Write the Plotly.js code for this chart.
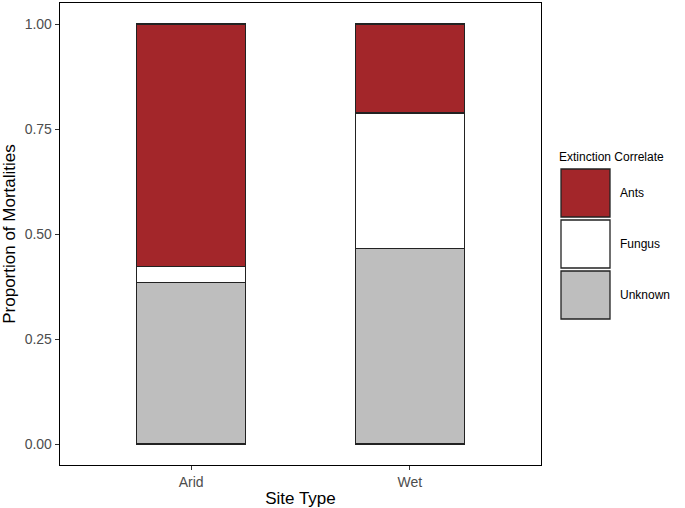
<!DOCTYPE html>
<html>
<head>
<meta charset="utf-8">
<script src="https://cdn.plot.ly/plotly-3.0.1.min.js"></script>
<style>
  html, body { margin: 0; padding: 0; background: #fff; }
  #chart { width: 685px; height: 508px; }
</style>
</head>
<body>
<div id="chart"></div>
<script>
// site types on the x axis
var sites = ['Arid', 'Wet'];

// proportion of mortalities per extinction correlate
var unknown = [0.384, 0.465];
var fungus = [0.039, 0.323];
var ants = [0.577, 0.212];

var yTicks = [0, 0.25, 0.5, 0.75, 1];
var yTickText = ['0.00', '0.25', '0.50', '0.75', '1.00'];

// legend order top to bottom
var legendNames = ['Ants', 'Fungus', 'Unknown'];
var legendColors = ['#a3262a', '#ffffff', '#bebebe'];

var W = 685, H = 508;
var mL = 60, mR = 144, mT = 3, mB = 43;
var plotW = W - mL - mR, plotH = H - mT - mB;

function px(x) { return (x - mL) / plotW; }
function py(y) { return (H - mB - y) / plotH; }

function barTrace(name, vals, color) {
  return {
    x: sites,
    y: vals,
    name: name,
    type: 'bar',
    width: 0.5,
    marker: { color: color, line: { color: '#222', width: 1.3 } },
    showlegend: false,
    hoverinfo: 'x+y+name'
  };
}

var data = [
  barTrace('Unknown', unknown, '#bebebe'),
  barTrace('Fungus', fungus, '#ffffff'),
  barTrace('Ants', ants, '#a3262a')
];

// hand made legend with big ggplot-style keys
var shapes = [];
var annotations = [];
for (var i = 0; i < legendNames.length; i++) {
  var keyTop = 169 + i * 51;
  shapes.push({
    type: 'rect', xref: 'paper', yref: 'paper',
    x0: px(561), x1: px(610), y0: py(keyTop + 48), y1: py(keyTop),
    fillcolor: legendColors[i],
    line: { color: '#222', width: 1.3 }
  });
  annotations.push({
    xref: 'paper', yref: 'paper', x: px(618), y: py(keyTop + 24),
    xanchor: 'left', yanchor: 'middle', showarrow: false,
    text: legendNames[i],
    font: { size: 12, color: '#000' }
  });
}
annotations.push({
  xref: 'paper', yref: 'paper', x: px(557), y: py(157),
  xanchor: 'left', yanchor: 'middle', showarrow: false,
  text: 'Extinction Correlate',
  font: { size: 12, color: '#000' }
});

var layout = {
  width: W,
  height: H,
  margin: { l: mL, r: mR, t: mT, b: mB },
  paper_bgcolor: '#fff',
  plot_bgcolor: '#fff',
  barmode: 'stack',
  font: { family: 'Liberation Sans, Arial, sans-serif', color: '#000' },
  xaxis: {
    range: [-0.6, 1.6],
    showgrid: false,
    zeroline: false,
    showline: true,
    mirror: true,
    linecolor: '#000',
    linewidth: 1.3,
    ticks: 'outside',
    ticklen: 4,
    tickcolor: '#333',
    tickfont: { size: 14, color: '#4d4d4d' },
    title: { text: 'Site Type', font: { size: 17, color: '#000' }, standoff: 4 }
  },
  yaxis: {
    range: [-0.05, 1.05],
    showgrid: false,
    zeroline: false,
    showline: true,
    mirror: true,
    linecolor: '#000',
    linewidth: 1.3,
    ticks: 'outside',
    ticklen: 4,
    tickcolor: '#333',
    tickvals: yTicks,
    ticktext: yTickText,
    tickfont: { size: 14, color: '#4d4d4d' },
    title: { text: 'Proportion of Mortalities', font: { size: 17, color: '#000' }, standoff: 6 }
  },
  shapes: shapes,
  annotations: annotations
};

Plotly.newPlot('chart', data, layout, { displayModeBar: false, staticPlot: true });
</script>
</body>
</html>
